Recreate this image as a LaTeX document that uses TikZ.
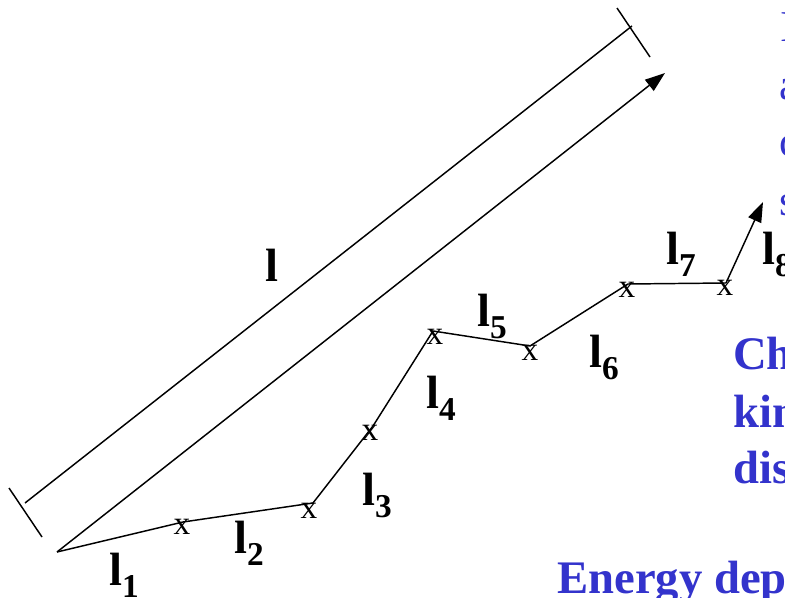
\documentclass[tikz,border=0pt]{standalone}
\usepackage{fontspec}
\setmainfont{Liberation Serif}
\usepackage{tikz}
\usetikzlibrary{arrows.meta}

\definecolor{slideblue}{HTML}{3333CC}
\newcommand{\seglbl}[1]{l\raisebox{-9pt}{\fontsize{25}{25}\selectfont #1}}

\begin{document}
\begin{tikzpicture}[
  x=0.75pt, y=-0.75pt,
  seg/.style={line width=1.1pt},
  arr/.style={line width=1.1pt, -{Triangle[length=15pt,width=10.5pt]}},
  xmark/.style={inner sep=0pt, font=\fontsize{25}{25}\selectfont},
  lbl/.style={anchor=base west, inner sep=0pt, font=\fontsize{35}{35}\selectfont\bfseries},
  bluetxt/.style={anchor=base west, inner sep=0pt, text=slideblue,
                  font=\fontsize{35}{35}\selectfont\bfseries},
  sidetxt/.style={anchor=base west, inner sep=0pt, text=slideblue,
                  font=\fontsize{33}{33}\selectfont}
]
\useasboundingbox (0,0) rectangle (785,598);
\clip (0,0) rectangle (785,598);

% dimension line l
\coordinate (D1) at (25,503);
\coordinate (D2) at (632,26);
\coordinate (T1a) at (9,488);
\coordinate (T1b) at (42,537);
\coordinate (T2a) at (617,8);
\coordinate (T2b) at (650,57);
\draw[seg] (D1) -- (D2);
\draw[seg] (T1a) -- (T1b);
\draw[seg] (T2a) -- (T2b);
\node[lbl] (L) at (265,282) {l};

% straight path
\coordinate (O) at (57,552);
\coordinate (E) at (665,73);
\draw[arr] (O) -- (E);

% steps
\coordinate (V1) at (183,522);
\coordinate (V2) at (313,503);
\coordinate (V3) at (373,426);
\coordinate (V4) at (433,331);
\coordinate (V5) at (530,346);
\coordinate (V6) at (628,284);
\coordinate (V7) at (726,283);
\coordinate (V8) at (763,202);
\draw[seg] (O) -- (V1) -- (V2) -- (V3) -- (V4) -- (V5) -- (V6) -- (V7);
\draw[arr] (V7) -- (V8);

\node[xmark] (X1) at (182,527) {x};
\node[xmark] (X2) at (309,511) {x};
\node[xmark] (X3) at (370,433) {x};
\node[xmark] (X4) at (435,337) {x};
\node[xmark] (X5) at (530,353) {x};
\node[xmark] (X6) at (627,290) {x};
\node[xmark] (X7) at (725,288) {x};

\node[lbl] (L1) at (109,585) {\seglbl{1}};
\node[lbl] (L2) at (234,553) {\seglbl{2}};
\node[lbl] (L3) at (362,505) {\seglbl{3}};
\node[lbl] (L4) at (426,408) {\seglbl{4}};
\node[lbl] (L5) at (477,327) {\seglbl{5}};
\node[lbl] (L6) at (589,368) {\seglbl{6}};
\node[lbl] (L7) at (666,265) {\seglbl{7}};
\node[lbl] (L8) at (762,265) {\seglbl{8}};

% slide text, cut at the edge
\node[sidetxt] (S1) at (780,42) {I};
\node[sidetxt] (S2) at (779,100) {a};
\node[sidetxt] (S3) at (779,157) {c};
\node[sidetxt] (S4) at (779,216) {s};
\node[bluetxt] (B1) at (733,370) {Ch};
\node[bluetxt] (B2) at (733,427) {kin};
\node[bluetxt] (B3) at (733,483) {dis};
\node[bluetxt] (B4) at (557,593) {Energy dep};
\end{tikzpicture}
\end{document}
